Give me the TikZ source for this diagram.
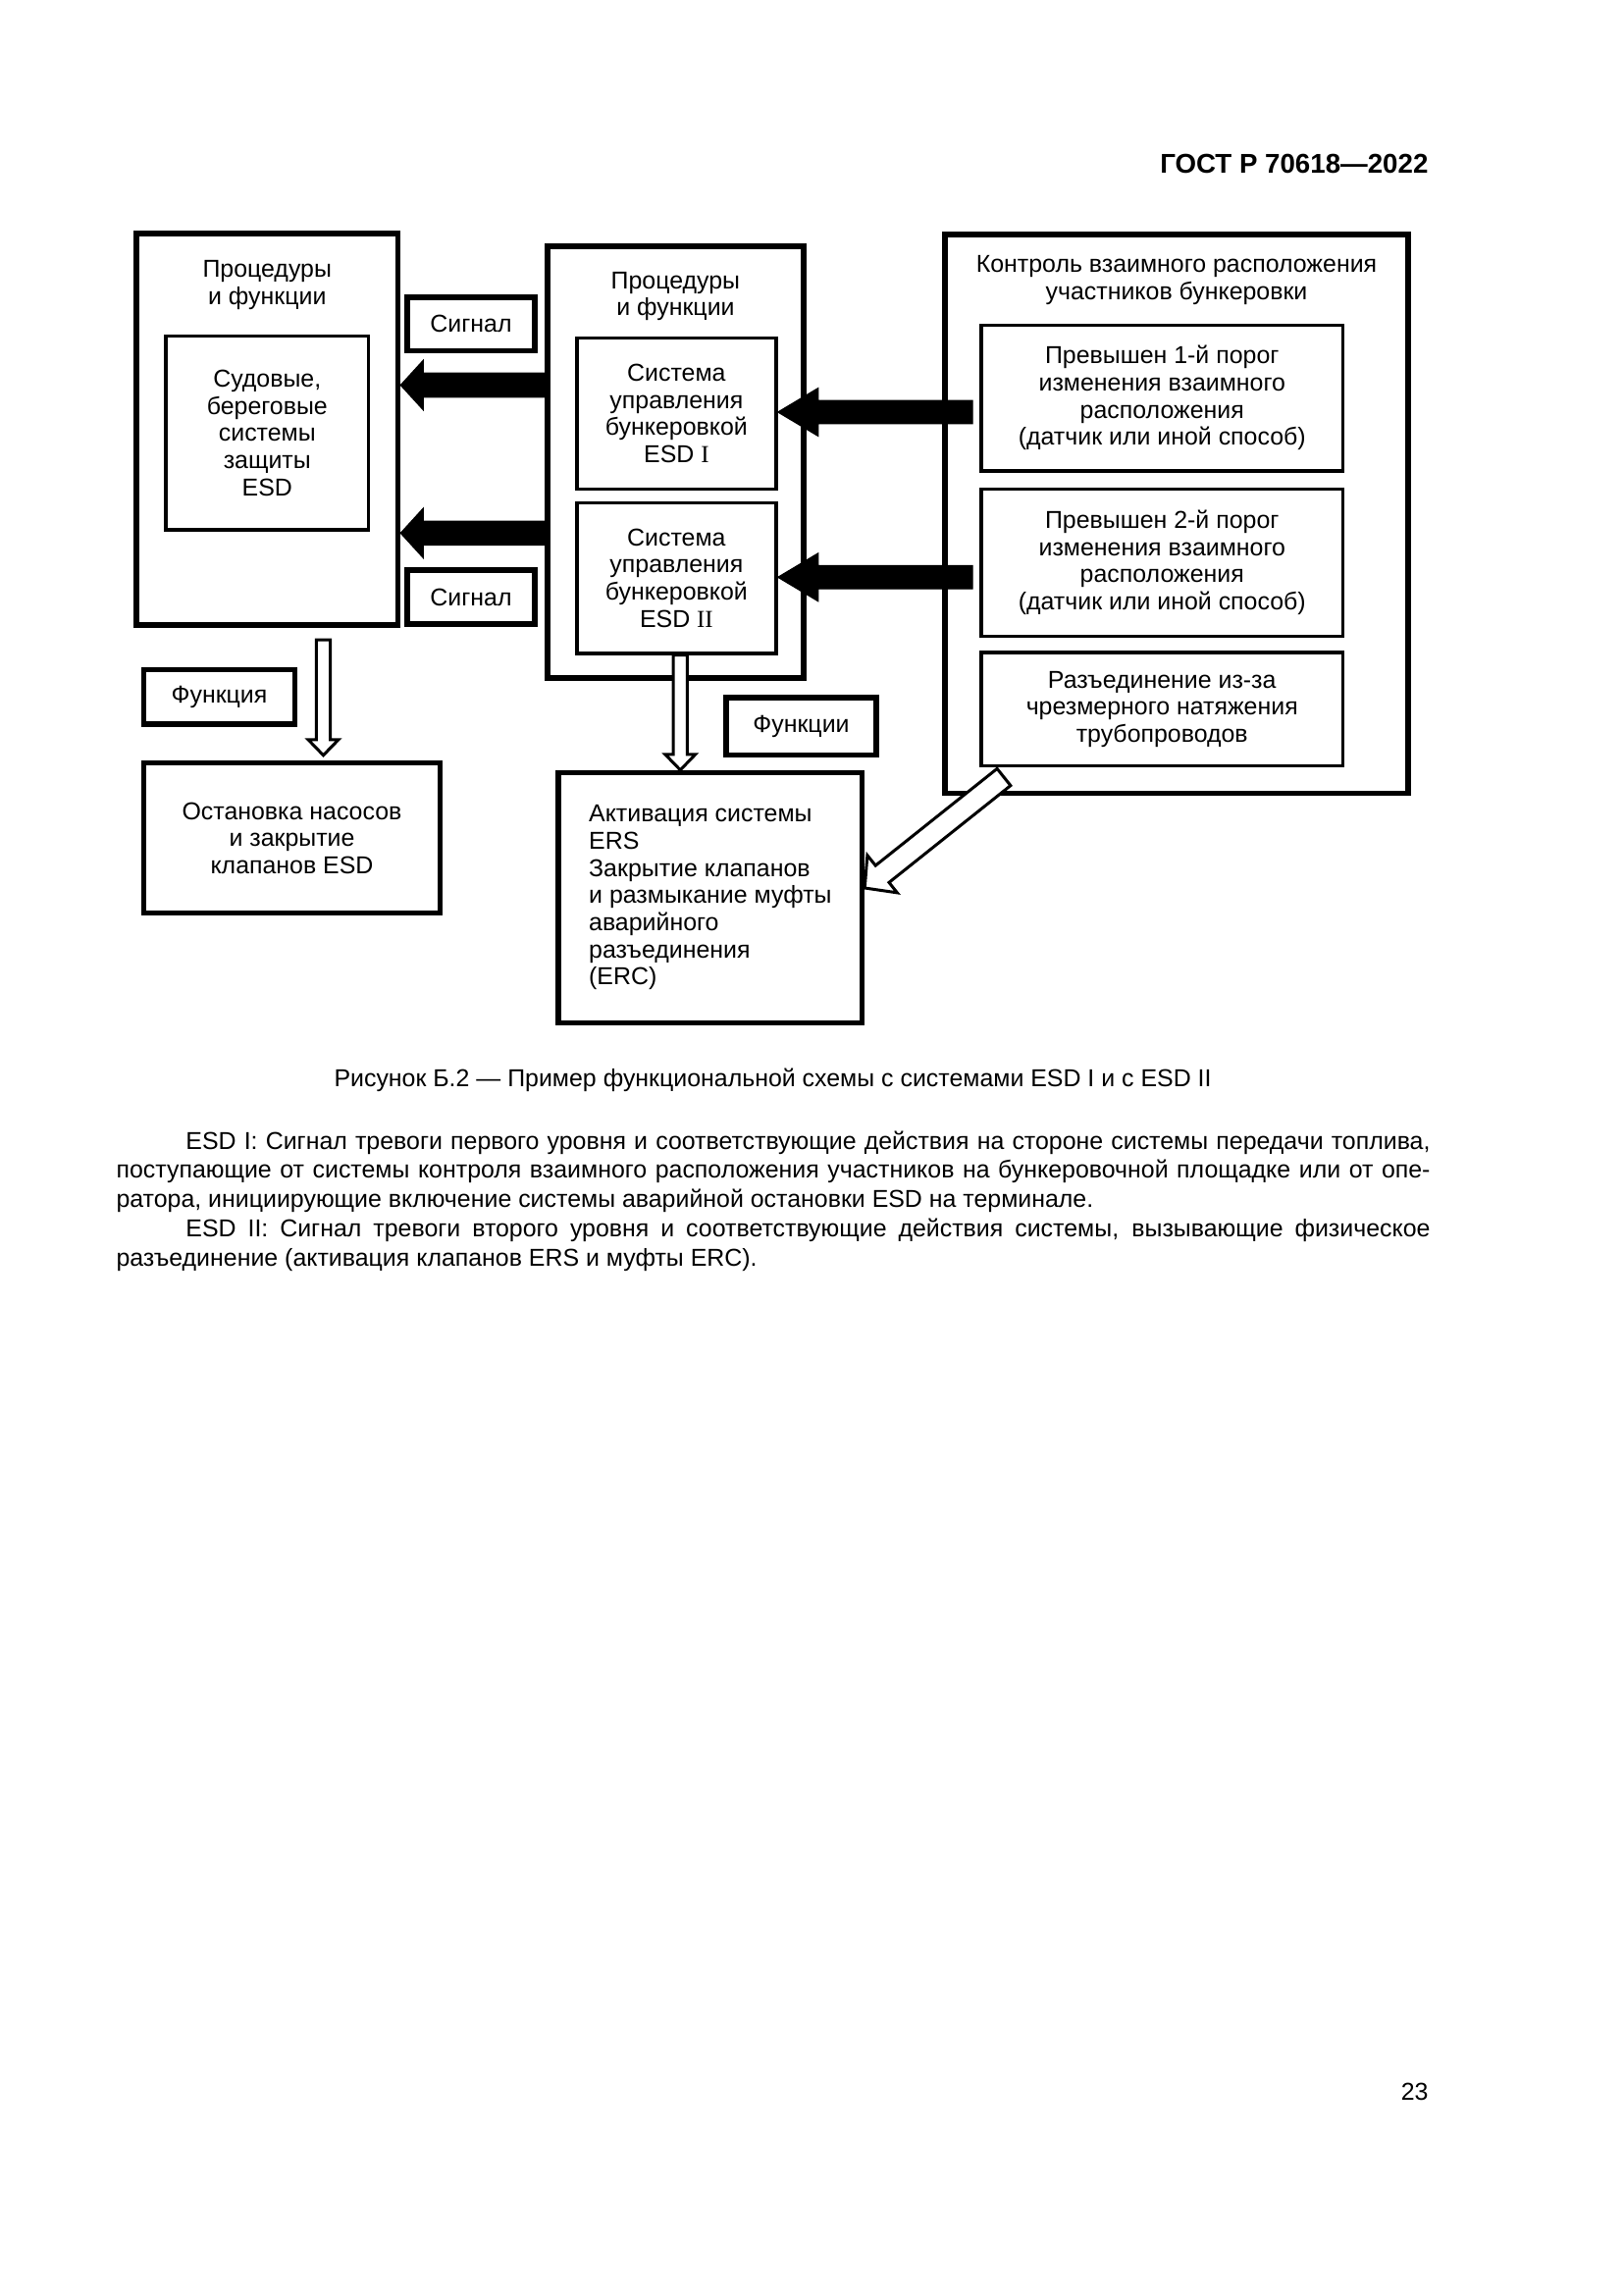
\documentclass[tikz,border=0pt]{standalone}
\usepackage{fontspec}
\setmainfont{Liberation Sans}
\newfontfamily\romfont{Liberation Serif}
\usetikzlibrary{calc,positioning}

% broad arrow: style, from, to, half shaft, half head, head length
\newcommand{\bigarrow}[6]{%
  \coordinate (ba) at (#2);
  \coordinate (bb) at (#3);
  \coordinate (bh) at ($(bb)!#6!(ba)$);
  \draw[#1] ($(ba)!#4!90:(bb)$) -- ($(bh)!#4!90:(bb)$) -- ($(bh)!#5!90:(bb)$) -- (bb)
    -- ($(bh)!#5!-90:(bb)$) -- ($(bh)!#4!-90:(bb)$) -- ($(ba)!#4!-90:(bb)$) -- cycle;
}

\begin{document}
\begin{tikzpicture}[x=0.12697mm, y=-0.12697mm,
    every node/.style={font=\fontsize{9}{10}\selectfont, inner sep=0pt},
    heavy/.style 2 args={draw, line width=0.7mm, minimum width=#1*0.12697mm, minimum height=#2*0.12697mm, align=center},
    light/.style 2 args={heavy={#1}{#2}, line width=0.44mm},
    hol/.style={draw, fill=white, line width=0.38mm},
    blk/.style={fill=black}]
  \useasboundingbox (0,0) rectangle (1654,2339);

  \node[font=\fontsize{10}{12}\selectfont\bfseries, anchor=base east] (gost) at (1456,176) {ГОСТ Р 70618—2022};

  % left column
  \node[heavy={266.5}{399}] (lbox) at (272.25,437.5) {};
  \node[align=center, anchor=base] (ltitle) at (272.25,310) {Процедуры\\и функции};
  \node[light={206.6}{197.3}] (ship) at (272.3,441.35) {Судовые,\\береговые\\системы\\защиты\\ESD};
  \node[heavy={130}{54.5}] (sig1) at (480,330.25) {Сигнал};
  \node[heavy={130}{55}] (sig2) at (480,608.5) {Сигнал};

  % middle column
  \node[heavy={260.8}{440.2}] (mbox) at (688.4,470.9) {};
  \node[align=center, anchor=base] (mtitle) at (688.4,321.7) {Процедуры\\и функции};
  \node[light={203.2}{154}] (esd1) at (689.4,421.3) {Система\\управления\\бункеровкой\\ESD {\romfont I}};
  \node[light={203.2}{153.1}] (esd2) at (689.4,589.25) {Система\\управления\\бункеровкой\\ESD {\romfont II}};

  % right column
  \node[heavy={472}{569.5}] (rbox) at (1199,523.75) {};
  \node[align=center, anchor=base] (rtitle) at (1199,305) {Контроль взаимного расположения\\участников бункеровки};
  \node[light={368.5}{148.7}] (lim1) at (1184.25,405.65) {Превышен 1-й порог\\изменения взаимного\\расположения\\(датчик или иной способ)};
  \node[light={368.5}{150}] (lim2) at (1184.25,573.3) {Превышен 2-й порог\\изменения взаимного\\расположения\\(датчик или иной способ)};
  \node[light={368.5}{115.7}] (tens) at (1184.25,722.85) {Разъединение из-за\\чрезмерного натяжения\\трубопроводов};

  % lower boxes
  \node[heavy={154.4}{55.7}] (fun1) at (223.5,710.35) {Функция};
  \node[heavy={302.4}{153.2}] (stop) at (297.5,854.1) {Остановка насосов\\и закрытие\\клапанов ESD};
  \node[heavy={153}{58.7}] (fun2) at (816.5,740.15) {Функции};
  \node[heavy={309.3}{254.8}, align=left] (act) at (723.85,914.9) {Активация системы\\ERS\\Закрытие клапанов\\и размыкание муфты\\аварийного\\разъединения\\(ERC)};

  % signal arrows
  \coordinate (out1) at (991,420);
  \coordinate (out2) at (991,588.3);
  \bigarrow{blk}{mbox.west |- 0,392.5}{lbox.east |- 0,392.5}{1.55mm}{3.2mm}{2.92mm}
  \bigarrow{blk}{mbox.west |- 0,543.3}{lbox.east |- 0,543.3}{1.55mm}{3.2mm}{2.92mm}
  \bigarrow{blk}{out1}{esd1.east |- out1}{1.5mm}{3.1mm}{5.2mm}
  \bigarrow{blk}{out2}{esd2.east |- out2}{1.5mm}{3.1mm}{5.2mm}

  % function arrows
  \coordinate (dn1) at (329.5,652);
  \coordinate (cut) at (1023,792);
  \bigarrow{hol}{dn1}{$(stop.north -| dn1)+(0,-5)$}{0.9mm}{1.97mm}{2.03mm}
  \bigarrow{hol}{esd2.south -| 693.3,0}{act.north -| 693.3,0}{0.9mm}{1.97mm}{2.03mm}
  \bigarrow{hol}{cut}{act.east |- 0,905}{1.4mm}{3.1mm}{2.9mm}

  \node[anchor=base] (cap) at (787.5,1107) {Рисунок Б.2 — Пример функциональной схемы с системами ESD I и с ESD II};

  \node[anchor=base west, text width=170mm, align=justify, font=\fontsize{9}{10.8}\selectfont] (note) at (118,1171) {\hyphenpenalty=10000
    \setlength{\parindent}{9mm}\indent ESD I: Сигнал тревоги первого уровня и соответствующие действия на стороне системы передачи топлива,\linebreak
    поступающие от системы контроля взаимного расположения участников на бункеровочной площадке или от опе-\linebreak
    ратора, инициирующие включение системы аварийной остановки ESD на терминале.\par
    ESD II: Сигнал тревоги второго уровня и соответствующие действия системы, вызывающие физическое\linebreak
    разъединение (активация клапанов ERS и муфты ERC).};

  \node[anchor=base east] (pg) at (1456,2140) {23};
\end{tikzpicture}
\end{document}
